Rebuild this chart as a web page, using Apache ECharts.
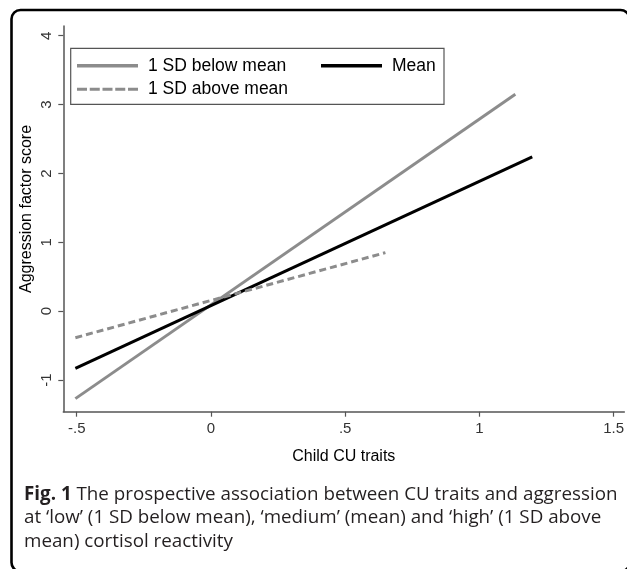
<!DOCTYPE html>
<html>
<head>
<meta charset="utf-8">
<script src="https://cdn.jsdelivr.net/npm/echarts@6/dist/echarts.min.js"></script>
<style>
html,body{margin:0;padding:0;background:#fff;}
#chart{width:627px;height:569px;}
</style>
</head>
<body>
<div id="chart"></div>
<script>
// ---- data ----
var seriesNames = ['1 SD below mean', 'Mean', '1 SD above mean'];
var xBelow = [-0.505, 1.134];
var yBelow = [-1.27, 3.15];
var xMean = [-0.505, 1.197];
var yMean = [-0.83, 2.24];
var xAbove = [-0.505, 0.65];
var yAbove = [-0.385, 0.85];
var xTicks = [-0.5, 0, 0.5, 1, 1.5];
var xTickLabels = ['-.5', '0', '.5', '1', '1.5'];
var yTicks = [-1, 0, 1, 2, 3, 4];
var yTickLabels = ['-1', '0', '1', '2', '3', '4'];
var xTitle = 'Child CU traits';
var yTitle = 'Aggression factor score';
var captionLines = [
  '{b|Fig. 1} The prospective association between CU traits and aggression',
  'at \u2018low\u2019 (1 SD below mean), \u2018medium\u2019 (mean) and \u2018high\u2019 (1 SD above',
  'mean) cortisol reactivity'
];

function pairs(xs, ys) { return xs.map(function (x, i) { return [x, ys[i]]; }); }
function lookup(ticks, labels) { return function (v) { var i = ticks.findIndex(function (t) { return Math.abs(t - v) < 1e-9; }); return i >= 0 ? labels[i] : ''; }; }

var GRAY = '#8c8c8c';
var FONT = 'Liberation Sans, Arial, sans-serif';
var CAPFONT = 'Open Sans, Noto Sans, sans-serif';
var CAPSIZE = 18.8;
var dashIcon = 'path://M0 0h10v3h-10z M12.75 0h10v3h-10z M25.5 0h10v3h-10z M38.25 0h10v3h-10z M51 0h10v3h-10z';

function legendAt(name, icon, left, top) {
  return {
    data: [{ name: name, icon: icon }],
    left: left, top: top, padding: 0,
    itemWidth: 61, itemHeight: 3.5,
    selectedMode: false,
    itemStyle: { borderWidth: 0 },
    textStyle: { fontFamily: FONT, fontSize: 17.5, color: '#000', lineHeight: 20, padding: [0, 0, 0, 5] }
  };
}

var chart = echarts.init(document.getElementById('chart'), null, { renderer: 'canvas' });
var captionGraphics = captionLines.map(function (t, i) {
  return {
    type: 'text', left: 24, top: [495, 518, 541.7][i] - 12,
    style: {
      text: t, fill: '#231f20', fontFamily: CAPFONT, fontSize: CAPSIZE, lineHeight: 24,
      rich: { b: { fontWeight: 'bold', fontFamily: CAPFONT, fontSize: CAPSIZE, fill: '#231f20', lineHeight: 24 } }
    }
  };
});

chart.setOption({
  animation: false,
  backgroundColor: '#fff',
  grid: { left: 63.3, right: 0.2, top: 26.1, bottom: 157.3, containLabel: false },
  xAxis: {
    type: 'value', min: -0.55, max: 1.54,
    name: xTitle, nameLocation: 'middle', nameGap: 37,
    nameTextStyle: { fontFamily: FONT, fontSize: 16, color: '#000' },
    axisLine: { show: true, onZero: false, lineStyle: { color: '#555', width: 1.5 } },
    axisTick: { show: true, customValues: xTicks, length: 5, lineStyle: { color: '#555', width: 1.2 } },
    axisLabel: { customValues: xTicks, formatter: lookup(xTicks, xTickLabels), margin: 10, fontFamily: FONT, fontSize: 15, color: '#333' },
    splitLine: { show: false }
  },
  yAxis: {
    type: 'value', min: -1.46, max: 4.14,
    axisLine: { show: true, onZero: false, lineStyle: { color: '#555', width: 1.5 } },
    axisTick: { show: true, customValues: yTicks, length: 5, lineStyle: { color: '#555', width: 1.2 } },
    axisLabel: { customValues: yTicks, formatter: lookup(yTicks, yTickLabels), rotate: 90, margin: 9, fontFamily: FONT, fontSize: 15, color: '#333' },
    splitLine: { show: false }
  },
  legend: [
    legendAt(seriesNames[0], 'rect', 77, 55.7),
    legendAt(seriesNames[1], 'rect', 321, 55.7),
    legendAt(seriesNames[2], dashIcon, 77, 79.3)
  ],
  series: [
    { name: seriesNames[0], type: 'line', symbol: 'none', data: pairs(xBelow, yBelow),
      itemStyle: { color: GRAY }, lineStyle: { color: GRAY, width: 3 } },
    { name: seriesNames[1], type: 'line', symbol: 'none', data: pairs(xMean, yMean),
      itemStyle: { color: '#000' }, lineStyle: { color: '#000', width: 3 } },
    { name: seriesNames[2], type: 'line', symbol: 'none', data: pairs(xAbove, yAbove),
      itemStyle: { color: GRAY }, lineStyle: { color: GRAY, width: 3, type: [7, 4] } }
  ],
  graphic: [
    { type: 'rect', shape: { x: 11.5, y: 10, width: 618, height: 561.5, r: 9 },
      style: { fill: 'none', stroke: '#000', lineWidth: 2.6 }, silent: true },
    { type: 'rect', shape: { x: 70.7, y: 48.3, width: 373.3, height: 56 },
      style: { fill: 'none', stroke: '#555', lineWidth: 1.2 }, silent: true },
    { type: 'text', x: 26.7, y: 209, rotation: Math.PI / 2,
      style: { text: yTitle, fontFamily: FONT, fontSize: 16, fill: '#000', align: 'center', verticalAlign: 'middle' } }
  ].concat(captionGraphics)
});
</script>
</body>
</html>
